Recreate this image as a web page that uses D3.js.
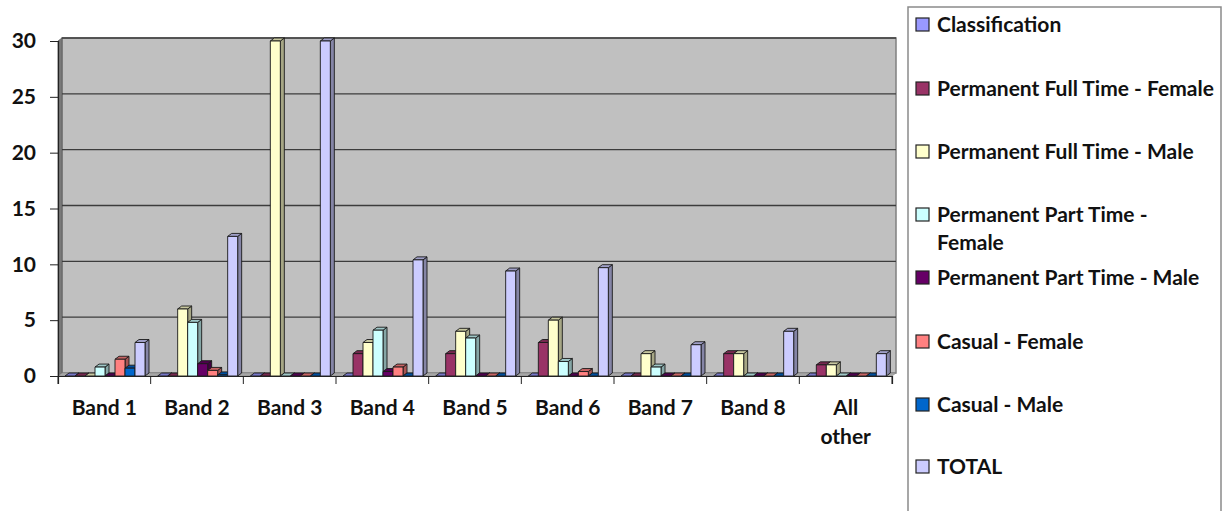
<!DOCTYPE html>
<html>
<head>
<meta charset="utf-8">
<script src="https://cdn.jsdelivr.net/npm/d3@7"></script>
<style>
	body { margin: 0; background: #fff; }
	svg text { font-family: "Lato", "Liberation Sans", sans-serif; font-weight: bold; fill: #111; }
</style>
</head>
<body>
<svg width="1223" height="511"></svg>
<script>
var categories = ["Band 1", "Band 2", "Band 3", "Band 4", "Band 5", "Band 6", "Band 7", "Band 8", "All other"];

var classification = [0, 0, 0, 0, 0, 0, 0, 0, 0];
var pftFemale = [0, 0, 0, 2, 2, 3, 0, 2, 1];
var pftMale = [0, 6, 30, 3, 4, 5, 2, 2, 1];
var pptFemale = [0.8, 4.8, 0, 4.1, 3.4, 1.3, 0.8, 0, 0];
var pptMale = [0, 1.1, 0, 0.4, 0, 0, 0, 0, 0];
var casualFemale = [1.5, 0.5, 0, 0.8, 0, 0.4, 0, 0, 0];
var casualMale = [0.7, 0.1, 0, 0, 0, 0, 0, 0, 0];
var total = [3, 12.5, 30, 10.4, 9.4, 9.7, 2.8, 4, 2];

var seriesNames = ["Classification", "Permanent Full Time - Female", "Permanent Full Time - Male",
	"Permanent Part Time - Female", "Permanent Part Time - Male", "Casual - Female", "Casual - Male", "TOTAL"];
var seriesValues = [classification, pftFemale, pftMale, pptFemale, pptMale, casualFemale, casualMale, total];
var seriesColors = ["#9999ff", "#993366", "#ffffcc", "#ccffff", "#660066", "#ff8080", "#0066cc", "#ccccff"];

var yTicks = [0, 5, 10, 15, 20, 25, 30];

var DEPTH_X = 4; // px
var DEPTH_Y = 3; // px

var svg = d3.select("svg");

var x = d3.scaleBand()
	.domain(categories)
	.range([58, 892]);

var x1 = d3.scaleBand()
	.domain(seriesNames)
	.range([7, 87]);

var y = d3.scaleLinear()
	.domain([0, 30])
	.range([376, 41]);

// back wall, left wall, floor
var wallL = x.range()[0], wallR = x.range()[1];

svg.append("rect")
	.attr("x", wallL + DEPTH_X)
	.attr("y", y(30) - DEPTH_Y)
	.attr("width", wallR - wallL)
	.attr("height", y(0) - y(30))
	.attr("fill", "#c0c0c0")
	.attr("stroke", "#808080")
	.attr("stroke-width", 1.5);

svg.append("polygon")
	.attr("points", [[wallL, y(0)], [wallL + DEPTH_X, y(0) - DEPTH_Y], [wallL + DEPTH_X, y(30) - DEPTH_Y], [wallL, y(30)]].join(" "))
	.attr("fill", "#7a7a7a")
	.attr("stroke", "#606060")
	.attr("stroke-width", 0.8);

svg.append("polygon")
	.attr("points", [[wallL, y(0)], [wallR, y(0)], [wallR + DEPTH_X, y(0) - DEPTH_Y], [wallL + DEPTH_X, y(0) - DEPTH_Y]].join(" "))
	.attr("fill", "#a8a8a8")
	.attr("stroke", "#808080")
	.attr("stroke-width", 0.6);

svg.append("g").selectAll("line")
	.data(yTicks.slice(1))
	.enter().append("line")
		.attr("x1", wallL + DEPTH_X)
		.attr("x2", wallR + DEPTH_X)
		.attr("y1", function(d) { return y(d) - DEPTH_Y; })
		.attr("y2", function(d) { return y(d) - DEPTH_Y; })
		.attr("stroke", "#3c3c3c")
		.attr("stroke-width", 1.4);

// bars, drawn as front face + side + top
var bars = [];
for (var i = 0; i < categories.length; i++) {
	for (var j = 0; j < seriesNames.length; j++) {
		bars.push({ cat: categories[i], key: seriesNames[j], value: seriesValues[j][i], color: seriesColors[j] });
	}
}

var barg = svg.append("g").selectAll("g")
	.data(bars)
	.enter().append("g")
		.attr("stroke", "#1a1a1a")
		.attr("stroke-width", 0.9)
		.attr("stroke-linejoin", "round");

barg.each(function(d) {
	var g = d3.select(this);
	var x0 = x(d.cat) + x1(d.key);
	var w = x1.bandwidth();
	var top = y(d.value);
	var bot = y(0);

	g.append("polygon")
		.attr("points", [[x0 + w, bot], [x0 + w + DEPTH_X, bot - DEPTH_Y], [x0 + w + DEPTH_X, top - DEPTH_Y], [x0 + w, top]].join(" "))
		.attr("fill", d3.color(d.color).darker(1.2));

	g.append("polygon")
		.attr("points", [[x0, top], [x0 + DEPTH_X, top - DEPTH_Y], [x0 + w + DEPTH_X, top - DEPTH_Y], [x0 + w, top]].join(" "))
		.attr("fill", d3.color(d.color).darker(0.7));

	if (bot - top > 0) {
		g.append("rect")
			.attr("x", x0)
			.attr("y", top)
			.attr("width", w)
			.attr("height", bot - top)
			.attr("fill", d.color);
	}
});

// axes
var yAxis = svg.append("g")
	.attr("transform", "translate(" + wallL + ",0)")
	.call(d3.axisLeft(y).tickValues(yTicks).tickSize(8).tickPadding(14));

var xAxis = svg.append("g")
	.attr("transform", "translate(0," + y(0) + ")")
	.call(d3.axisBottom(x).tickSize(8).tickFormat(""));

xAxis.selectAll(".tick").remove();
var edges = categories.map(function(c) { return x(c); }).concat([wallR]);
xAxis.selectAll(".edge")
	.data(edges)
	.enter().append("line")
		.attr("class", "edge")
		.attr("x1", function(d) { return d; })
		.attr("x2", function(d) { return d; })
		.attr("y1", 0)
		.attr("y2", 8)
		.attr("stroke", "#222");

svg.selectAll(".domain")
	.attr("stroke", "#222")
	.attr("stroke-width", 1.2);

yAxis.selectAll(".tick line").attr("stroke", "#222");
yAxis.selectAll(".tick text")
	.attr("font-size", "21px")
	.attr("fill", "#111");

// category labels (wrap "All other")
var catg = svg.append("g").selectAll("text")
	.data(categories)
	.enter().append("text")
		.attr("text-anchor", "middle")
		.attr("font-size", "21px")
		.attr("y", 415);

catg.each(function(d) {
	var words = d === "All other" ? ["All", "other"] : [d];
	var t = d3.select(this);
	for (var k = 0; k < words.length; k++) {
		t.append("tspan")
			.attr("x", x(d) + x.bandwidth() / 2)
			.attr("dy", k === 0 ? 0 : 29)
			.text(words[k]);
	}
});

// legend
var legend = svg.append("g");

legend.append("rect")
	.attr("x", 908)
	.attr("y", 7)
	.attr("width", 313)
	.attr("height", 520)
	.attr("fill", "#fff")
	.attr("stroke", "#8a8a8a")
	.attr("stroke-width", 1.5);

var legendY = [25, 89, 152, 215, 278, 342, 405, 467];

var items = legend.selectAll(".item")
	.data(seriesNames)
	.enter().append("g")
		.attr("class", "item")
		.attr("transform", function(d, i) { return "translate(916," + legendY[i] + ")"; });

items.append("rect")
	.attr("x", 0)
	.attr("y", -7)
	.attr("width", 13)
	.attr("height", 13)
	.attr("fill", function(d, i) { return seriesColors[i]; })
	.attr("stroke", "#222")
	.attr("stroke-width", 1.2);

items.append("text")
	.attr("x", 21)
	.attr("y", 7)
	.attr("font-size", "21px")
	.each(function(d) {
		var t = d3.select(this);
		var lines = d === "Permanent Part Time - Female" ? ["Permanent Part Time -", "Female"] : [d];
		for (var k = 0; k < lines.length; k++) {
			t.append("tspan")
				.attr("x", 21)
				.attr("dy", k === 0 ? 0 : 28)
				.text(lines[k]);
		}
	});
</script>
</body>
</html>
